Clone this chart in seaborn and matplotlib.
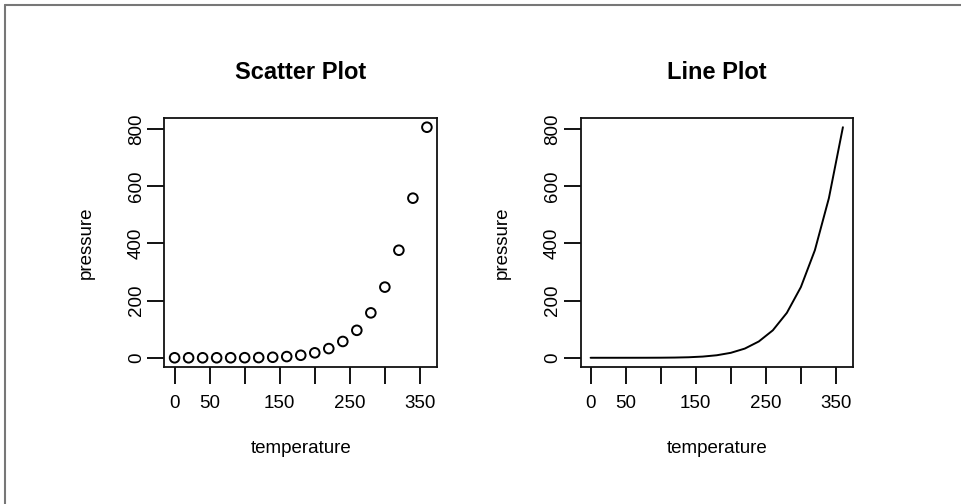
import pandas as pd
import matplotlib
matplotlib.use("Agg")
import matplotlib.pyplot as plt
from matplotlib.lines import Line2D
import seaborn as sns

# R's pressure dataset
temperature = [0, 20, 40, 60, 80, 100, 120, 140, 160, 180,
               200, 220, 240, 260, 280, 300, 320, 340, 360]
pressure = [0.0002, 0.0012, 0.0060, 0.0300, 0.0900, 0.2700, 0.7500, 1.8500,
            4.2000, 8.8000, 17.3000, 32.1000, 57.0000, 96.0000, 157.0000,
            247.0000, 376.0000, 558.0000, 806.0000]
x_ticks = [0, 50, 100, 150, 200, 250, 300, 350]
x_tick_labels = ["0", "50", "", "150", "", "250", "", "350"]
y_ticks = [0, 200, 400, 600, 800]

df = pd.DataFrame({"temperature": temperature, "pressure": pressure})

sns.set_style("ticks")
plt.rcParams["font.family"] = ["Liberation Sans", "DejaVu Sans"]
plt.rcParams["text.color"] = "black"
plt.rcParams["axes.labelcolor"] = "black"

W, H = 962, 504
fig = plt.figure(figsize=(W / 100, H / 100), dpi=100)

# gray frame on top and left edge
fig.add_artist(Line2D([4.5 / W, 1], [1 - 4.5 / H, 1 - 4.5 / H], color="#777777", lw=1.5))
fig.add_artist(Line2D([4.5 / W, 4.5 / W], [0, 1 - 4.5 / H], color="#777777", lw=1.5))


def style_axes(ax, title):
    xr = max(temperature) - min(temperature)
    yr = max(pressure) - min(pressure)
    ax.set_xlim(min(temperature) - 0.04 * xr, max(temperature) + 0.04 * xr)
    ax.set_ylim(min(pressure) - 0.04 * yr, max(pressure) + 0.04 * yr)
    ax.set_xticks(x_ticks)
    ax.set_xticklabels(x_tick_labels)
    ax.set_yticks(y_ticks)
    ax.set_yticklabels([str(v) for v in y_ticks], rotation=90, va="center")
    ax.tick_params(axis="both", direction="out", length=12, width=1.3,
                   labelsize=13.5, colors="black")
    ax.tick_params(axis="x", pad=8)
    ax.tick_params(axis="y", pad=2)
    for s in ax.spines.values():
        s.set_visible(True)
        s.set_linewidth(1.3)
        s.set_color("#111111")
    ax.set_title(title, fontsize=17, fontweight="bold", pad=28, color="black")
    ax.set_xlabel("temperature", fontsize=13.5, labelpad=20)
    ax.set_ylabel("pressure", fontsize=13.5, labelpad=24)


# Scatter panel
ax1 = fig.add_axes([164.5 / W, (H - 367) / H, 272.5 / W, 249 / H])
sns.scatterplot(data=df, x="temperature", y="pressure", ax=ax1,
                marker="o", s=48, facecolor="none", edgecolor="black", linewidth=1.4)
style_axes(ax1, "Scatter Plot")

# Line panel
ax2 = fig.add_axes([580.5 / W, (H - 367) / H, 272.5 / W, 249 / H])
sns.lineplot(data=df, x="temperature", y="pressure", ax=ax2, color="black", linewidth=1.4)
style_axes(ax2, "Line Plot")

fig.savefig("out.png", dpi=100, facecolor="white")
